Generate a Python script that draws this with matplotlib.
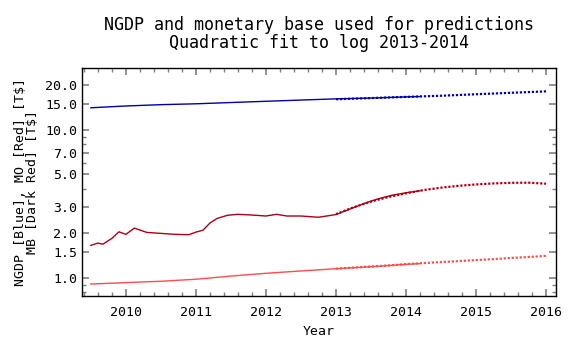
import matplotlib
matplotlib.use('Agg')
import matplotlib.pyplot as plt
from matplotlib.ticker import FixedLocator, MultipleLocator, NullFormatter

plt.rcParams['font.family'] = ['DejaVu Sans Mono']

# historical data
hist_years = [2009.5, 2010.0, 2010.5, 2011.0, 2011.5, 2012.0, 2012.5, 2013.0, 2013.5, 2014.0, 2014.2]
ngdp_hist = [14.1, 14.5, 14.8, 15.0, 15.3, 15.6, 15.9, 16.2, 16.4, 16.7, 16.8]
mo_hist = [0.91, 0.93, 0.95, 0.98, 1.03, 1.075, 1.115, 1.155, 1.19, 1.235, 1.25]

mb_years = [2009.5, 2009.6, 2009.67, 2009.8, 2009.9, 2010.0, 2010.12, 2010.3, 2010.5,
            2010.7, 2010.9, 2011.0, 2011.1, 2011.2, 2011.3, 2011.45, 2011.6, 2011.8,
            2012.0, 2012.15, 2012.3, 2012.5, 2012.75, 2013.0, 2013.2, 2013.4, 2013.6,
            2013.8, 2014.0, 2014.2]
mb_hist = [1.66, 1.72, 1.69, 1.85, 2.05, 1.97, 2.17, 2.03, 2.0,
           1.97, 1.96, 2.04, 2.1, 2.35, 2.52, 2.65, 2.69, 2.66,
           2.62, 2.69, 2.62, 2.62, 2.57, 2.68, 2.92, 3.18, 3.42,
           3.62, 3.76, 3.88]

# quadratic fit (prediction)
fit_years = [2013.0, 2013.25, 2013.5, 2013.75, 2014.0, 2014.25, 2014.5, 2014.75,
             2015.0, 2015.25, 2015.5, 2015.75, 2016.0]
ngdp_fit = [16.1, 16.25, 16.4, 16.55, 16.7, 16.85, 17.0, 17.2, 17.4, 17.6, 17.8, 18.0, 18.2]
mb_fit = [2.70, 3.0, 3.28, 3.52, 3.73, 3.92, 4.07, 4.19, 4.28, 4.35, 4.39, 4.40, 4.33]
mo_fit = [1.155, 1.175, 1.195, 1.215, 1.24, 1.26, 1.28, 1.30, 1.32, 1.34, 1.365, 1.385, 1.41]

yticks = [1.0, 1.5, 2.0, 3.0, 5.0, 7.0, 10.0, 15.0, 20.0]
ytick_labels = ['1.0', '1.5', '2.0', '3.0', '5.0', '7.0', '10.0', '15.0', '20.0']
xticks = [2010, 2011, 2012, 2013, 2014, 2015, 2016]

blue = '#0000aa'
dark_red = '#aa0015'
red = '#ff4c4c'

fig = plt.figure(figsize=(5.76, 3.52), dpi=100)
ax = fig.add_axes([0.142, 0.159, 0.823, 0.648])

ax.plot(hist_years, ngdp_hist, color=blue, lw=1)
ax.plot(mb_years, mb_hist, color=dark_red, lw=1)
ax.plot(hist_years, mo_hist, color=red, lw=1)
ax.plot(fit_years, ngdp_fit, color=blue, lw=1.6, ls=(0, (1, 0.8)))
ax.plot(fit_years, mb_fit, color=dark_red, lw=1.6, ls=(0, (1, 0.8)))
ax.plot(fit_years, mo_fit, color=red, lw=1.6, ls=(0, (1, 0.8)))

ax.set_yscale('log')
ax.set_xlim(2009.37, 2016.14)
ax.set_ylim(0.755, 26.2)
ax.yaxis.set_major_locator(FixedLocator(yticks))
ax.set_yticklabels(ytick_labels)
ax.yaxis.set_minor_locator(FixedLocator([0.8, 0.9, 4.0, 6.0, 8.0, 9.0]))
ax.yaxis.set_minor_formatter(NullFormatter())
ax.set_xticks(xticks)
ax.set_xticklabels([str(x) for x in xticks])
ax.xaxis.set_minor_locator(MultipleLocator(0.2))

ax.tick_params(which='both', direction='in', top=True, right=True, color='#808080',
               labelsize=9.5)
ax.tick_params(axis='x', pad=7)
ax.tick_params(which='major', length=5, width=1.2)
ax.tick_params(which='minor', length=3, width=1)
for s in ax.spines.values():
    s.set_linewidth(1)

ax.set_xlabel('Year', fontsize=9.5, labelpad=4.5)
ax.set_ylabel('NGDP [Blue], MO [Red] [T$]\nMB [Dark Red] [T$]', fontsize=9.5,
              linespacing=0.95, labelpad=4)
ax.set_title('NGDP and monetary base used for predictions\nQuadratic fit to log 2013-2014',
             fontsize=12, linespacing=1.02, pad=14)

fig.savefig('out.png', dpi=100)
